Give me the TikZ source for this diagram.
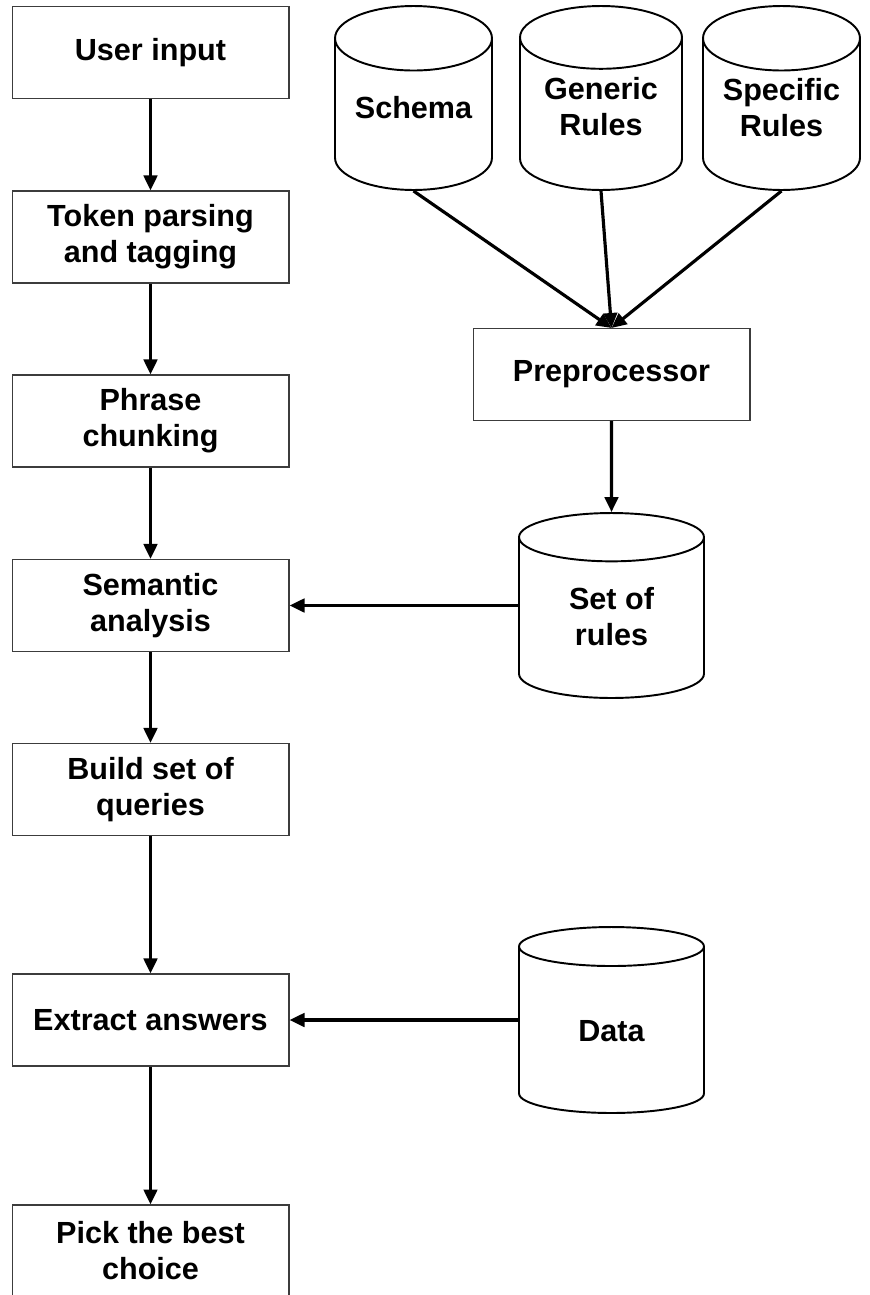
\documentclass[tikz,border=0pt]{standalone}
\usepackage{fontspec}
\setmainfont{Liberation Sans}
\usetikzlibrary{arrows.meta,shapes.geometric}
\definecolor{box_gray}{RGB}{60,60,60}
% label inside a store, nudged off the cylinder's text centre
\newcommand{\storelabel}[2][1pt]{\raisebox{#1}[0pt][0pt]{\begin{tabular}{@{}c@{}}#2\end{tabular}}}

\begin{document}
\begin{tikzpicture}[x=0.02cm,y=-0.02cm,->,>={Triangle[length=0.3cm,width=0.27cm]},line width=1.8pt]
    \tikzstyle{step_box}=[draw=box_gray, line width=0.6pt, rectangle, minimum width=5.54cm, minimum height=1.84cm, align=center, font=\fontsize{17.4}{20.5}\selectfont\bfseries]
    \tikzstyle{store}=[draw=black, line width=1.1pt, cylinder, shape border rotate=90, aspect=0.5, anchor=shape center, minimum height=3.68cm, minimum width=3.14cm, font=\fontsize{17.4}{20.5}\selectfont\bfseries]
    \useasboundingbox (0,0) rectangle (869,1295);

    % processing chain
    \node[step_box] (input)   at (150.5,52.5)  {User input};
    \node[step_box] (token)   at (150.5,237)   {Token parsing\\and tagging};
    \node[step_box] (chunk)   at (150.5,421)   {Phrase\\chunking};
    \node[step_box] (sem)     at (150.5,605.5) {Semantic\\analysis};
    \node[step_box] (queries) at (150.5,789.5) {Build set of\\queries};
    \node[step_box] (extract) at (150.5,1020)  {Extract answers};
    \node[step_box] (pick)    at (150.5,1251)  {Pick the best\\choice};

    % rule stores
    \node[store] (schema)   at (413.5,98) {\storelabel{Schema}};
    \node[store, minimum width=3.24cm] (generic)  at (601,98)   {\storelabel{Generic\\Rules}};
    \node[store] (specific) at (781.5,98) {\storelabel{Specific\\Rules}};
    \node[step_box] (pre)   at (611.5,374.5) {Preprocessor};
    \node[store, minimum width=3.7cm, minimum height=3.7cm] (rules) at (611.5,605.5) {\storelabel[-3.3pt]{Set of\\rules}};
    \node[store, minimum width=3.7cm, minimum height=3.72cm] (data)  at (611.5,1020)  {\storelabel[-4.7pt]{Data}};

    \path
     (input) edge (token)
     (token) edge (chunk)
     (chunk) edge (sem)
     (sem) edge (queries)
     (queries) edge (extract)
     (extract) edge (pick)
     (schema.south) edge (pre.north)
     (generic.south) edge (pre.north)
     (specific.south) edge (pre.north)
     (pre) edge (rules)
     (sem.east -| rules.west) edge (sem.east)
     (extract.east -| data.west) edge (extract.east)
     ;
\end{tikzpicture}
\end{document}
